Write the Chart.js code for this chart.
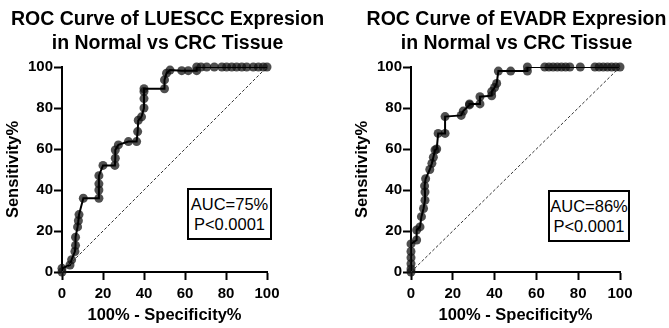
<!DOCTYPE html>
<html>
<head>
<meta charset="utf-8">
<script src="https://cdn.jsdelivr.net/npm/chart.js@4"></script>
<style>
  body { margin: 0; background: #fff; font-family: "Liberation Sans", Arial, sans-serif; }
  #wrap { position: relative; width: 669px; height: 328px; overflow: hidden; }
  .title { position: absolute; top: 6px; font-weight: bold; font-size: 19.5px; line-height: 24px; text-align: center; color: #000; white-space: nowrap; }
  .auc { position: absolute; border: 2px solid #000; background: #fff; font-size: 16.5px; line-height: 20px; text-align: center; padding: 4px 0; white-space: nowrap; }
  canvas { position: absolute; top: 0; }
</style>
</head>
<body>
<div id="wrap">
  <canvas id="c1" width="300" height="328" style="left:0px"></canvas>
  <canvas id="c2" width="329" height="328" style="left:340px"></canvas>
  <div class="title" style="left:0px;width:335px">ROC Curve of LUESCC Expresion<br>in Normal vs CRC Tissue</div>
  <div class="title" style="left:366px;width:301px">ROC Curve of EVADR Expresion<br>in Normal vs CRC Tissue</div>
  <div class="auc" style="left:187px;top:188px;width:81px">AUC=75%<br>P&lt;0.0001</div>
  <div class="auc" style="left:548px;top:190px;width:78px">AUC=86%<br>P&lt;0.0001</div>
</div>
<script>
// LUESCC ROC points (100% - specificity, sensitivity)
const lueX = [0, 0, 3.9, 4.7, 6.3, 6.6, 6.6, 7.6, 8, 8.3, 10.4, 18, 18, 18, 18, 20, 25.8, 26, 26, 27.5, 32.4, 36.4, 36.9, 37.2, 38.8, 40, 40, 40, 40, 50, 50, 51, 52.7, 58.4, 61.6, 65.7, 65.7, 67.8, 70.6, 74.3, 78, 80.3, 82.8, 85.2, 87.7, 90.1, 93.3, 95.8, 98.2, 100];
const lueY = [0, 1.8, 3.4, 6, 10, 13, 17, 22, 25, 28, 36, 36, 40, 43, 47, 52, 52, 55.5, 59.5, 62, 63.6, 63.6, 68.5, 74, 75.7, 80, 84.6, 88, 89.4, 89.4, 93.7, 97, 98.5, 98.2, 98.2, 98.2, 100, 100, 100, 100, 100, 100, 100, 100, 100, 100, 100, 100, 100, 100];

// EVADR ROC points
const evaX = [0, 0, 0, 0, 0, 0, 2.7, 2.7, 4.3, 5, 6, 6.7, 6.7, 6.5, 7, 9, 10, 10.7, 11.5, 12.3, 13, 16.3, 16.3, 24, 25, 28, 28, 33, 33, 38.6, 38.6, 40, 41, 41.8, 47.7, 55.7, 55.7, 64, 66, 68, 70, 72, 74, 76, 81, 88, 90, 92, 94, 96, 98, 100];
const evaY = [0, 1.5, 4, 7, 10, 13.7, 15.6, 20.5, 22, 27, 31, 35, 39, 42, 45.5, 50, 53, 56, 59.5, 60, 67.6, 67.6, 75.8, 76.4, 78.5, 81.5, 82, 82, 85.5, 86, 88, 90, 92, 98, 98, 98, 100, 100, 100, 100, 100, 100, 100, 100, 100, 100, 100, 100, 100, 100, 100, 100];

const tickVals = [0, 20, 40, 60, 80, 100];
const xTitle = '100% - Specificity%';
const yTitle = 'Sensitivity%';

function toPoints(xs, ys) {
    return xs.map((x, i) => ({ x: x, y: ys[i] }));
}

function makeROC(canvasId, xs, ys, yAxisWidth, rightPad, yTitlePad) {
    const ctx = document.getElementById(canvasId).getContext('2d');
    const pts = toPoints(xs, ys);
    const tickFont = { family: 'Liberation Sans', size: 15, weight: 'bold' };
    const titleFont = { family: 'Liberation Sans', size: 16.5, weight: 'bold' };
    const gridOpts = { display: true, drawOnChartArea: false, drawTicks: true, tickLength: 8, tickWidth: 2, color: '#000' };
    const axisCommon = {
        type: 'linear',
        min: 0,
        max: 100,
        border: { display: true, color: '#000', width: 2 },
        grid: gridOpts,
        afterBuildTicks: axis => { axis.ticks = tickVals.map(v => ({ value: v })); }
    };
    return new Chart(ctx, {
        type: 'scatter',
        data: {
            datasets: [
                {
                    // chance diagonal
                    data: [{ x: 0, y: 0 }, { x: 100, y: 100 }],
                    showLine: true,
                    borderColor: '#333',
                    borderWidth: 1,
                    borderDash: [3, 2],
                    pointRadius: 0
                },
                {
                    data: pts,
                    showLine: true,
                    borderColor: '#000',
                    borderWidth: 2,
                    pointRadius: 0,
                    clip: 0
                },
                {
                    data: pts,
                    showLine: false,
                    pointRadius: 4.5,
                    pointBorderWidth: 0,
                    pointBackgroundColor: 'rgba(20,20,20,0.75)',
                    clip: false
                }
            ]
        },
        options: {
            responsive: false,
            animation: false,
            layout: { padding: { left: 0, right: rightPad, top: 67, bottom: 0 } },
            plugins: { legend: { display: false }, tooltip: { enabled: false } },
            scales: {
                x: Object.assign({}, axisCommon, {
                    position: 'bottom',
                    afterFit: s => { s.height = 56; },
                    ticks: { color: '#000', font: tickFont, padding: 5 },
                    title: { display: true, text: xTitle, color: '#000', font: titleFont, padding: { top: 0, bottom: 3 } }
                }),
                y: Object.assign({}, axisCommon, {
                    position: 'left',
                    afterFit: s => { s.width = yAxisWidth; },
                    ticks: { color: '#000', font: tickFont, padding: 1 },
                    title: { display: true, text: yTitle, color: '#000', font: titleFont, padding: { top: yTitlePad, bottom: 0 } }
                })
            }
        }
    });
}

makeROC('c1', lueX, lueY, 62, 33, 4);
makeROC('c2', evaX, evaY, 71, 49, 13);
</script>
</body>
</html>
